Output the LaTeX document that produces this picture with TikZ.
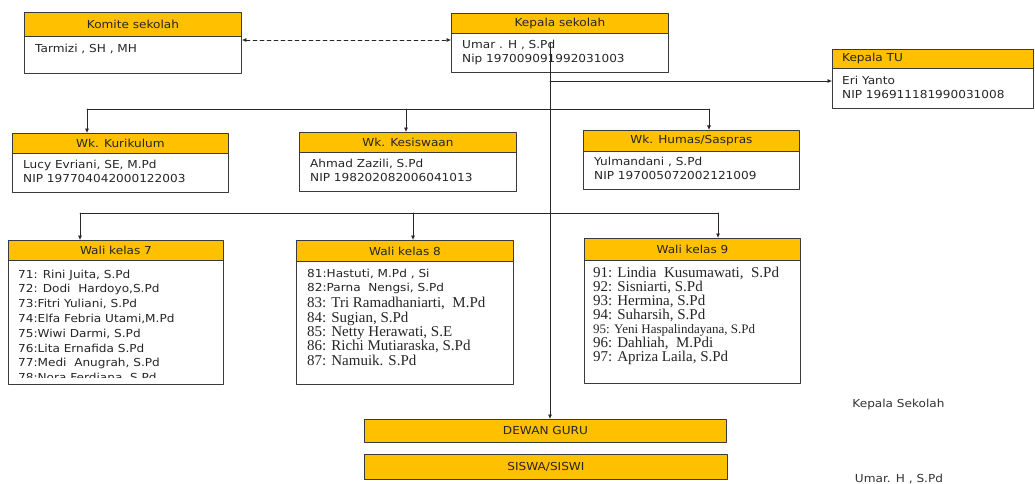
\documentclass[tikz,border=0pt]{standalone}
\usepackage{fontspec}
\setmainfont{DejaVu Sans}[FakeStretch=1.1]
\newfontfamily\timesfont{Liberation Serif}
\usetikzlibrary{arrows.meta}
\definecolor{hdryellow}{RGB}{255,192,0}
\definecolor{edgegray}{RGB}{58,58,58}
\definecolor{linegray}{RGB}{40,40,40}

\begin{document}
\begin{tikzpicture}[x=1pt,y=-1pt,line cap=round,line join=round,
  font=\fontsize{11}{14}\selectfont,
  hdr/.style={draw=edgegray,fill=hdryellow,line width=0.9pt,anchor=north west,inner sep=0pt,text=black!85},
  bodybox/.style={draw=edgegray,fill=white,line width=0.9pt,anchor=north west,inner sep=0pt},
  bodytxt/.style={anchor=north west,inner sep=0pt,align=left,text=black!85},
  serif/.style={font=\timesfont\fontsize{15}{14.4}\selectfont},
  link/.style={draw=linegray,line width=0.7pt},
  tip/.style={-{Latex[length=4.5pt,width=4pt]}}]
\useasboundingbox (0,0) rectangle (1035,484);
% top row
\node[bodybox,minimum width=217pt,minimum height=37pt] (komB) at (24,36) {};
\node[hdr,minimum width=217pt,minimum height=24pt] (komH) at (24,12) {Komite sekolah};
\node[bodytxt] (komT) at (35,43.5) {Tarmizi , SH , MH};
\node[bodybox,minimum width=217pt,minimum height=39pt] (kepB) at (451,33) {};
\node[hdr,minimum width=217pt,minimum height=20pt] (kepH) at (451,13) {Kepala sekolah};
\node[bodytxt] (kepT) at (462,39.5) {Umar . H , S.Pd\\Nip 197009091992031003};
\node[bodybox,minimum width=201pt,minimum height=40pt] (tuB) at (832,68) {};
\node[hdr,minimum width=201pt,minimum height=19pt] (tuH) at (832,49) {};
\node[bodytxt,anchor=west] (tuHT) at ([xshift=10pt]tuH.west) {Kepala TU};
\node[bodytxt] (tuT) at (842,76) {Eri Yanto\\NIP 196911181990031008};
% wakil
\node[bodybox,minimum width=216pt,minimum height=39pt] (kurB) at (12,153) {};
\node[hdr,minimum width=216pt,minimum height=20pt] (kurH) at (12,133) {Wk. Kurikulum};
\node[bodytxt] (kurT) at (23,159.5) {Lucy Evriani, SE, M.Pd\\NIP 197704042000122003};
\node[bodybox,minimum width=217pt,minimum height=39pt] (kesB) at (299,152) {};
\node[hdr,minimum width=217pt,minimum height=20pt] (kesH) at (299,132) {Wk. Kesiswaan};
\node[bodytxt] (kesT) at (310,158.5) {Ahmad Zazili, S.Pd\\NIP 198202082006041013};
\node[bodybox,minimum width=216pt,minimum height=38pt] (humB) at (583,151) {};
\node[hdr,minimum width=216pt,minimum height=21pt] (humH) at (583,130) {Wk. Humas/Saspras};
\node[bodytxt] (humT) at (594,156.5) {Yulmandani , S.Pd\\NIP 197005072002121009};
% wali kelas
\node[bodybox,minimum width=215pt,minimum height=124pt] (w7B) at (8,260) {};
\node[hdr,minimum width=215pt,minimum height=20pt] (w7H) at (8,240) {Wali kelas 7};
\begin{scope}
\clip (9,261) rectangle (222,377.5);
\node[bodytxt,font=\fontsize{11}{14.8}\selectfont] (w7T) at (18,269.5) {71: Rini Juita, S.Pd\\72: Dodi~ Hardoyo,S.Pd\\73:Fitri Yuliani, S.Pd\\74:Elfa Febria Utami,M.Pd\\75:Wiwi Darmi, S.Pd\\76:Lita Ernafida S.Pd\\77:Medi~ Anugrah, S.Pd\\78:Nora Ferdiana, S.Pd};
\end{scope}
\node[bodybox,minimum width=217pt,minimum height=123pt] (w8B) at (296,261) {};
\node[hdr,minimum width=217pt,minimum height=21pt] (w8H) at (296,240) {Wali kelas 8};
\node[bodytxt,font=\fontsize{11}{14.7}\selectfont] (w8T) at (307,268.5) {81:Hastuti, M.Pd , Si\\82:Parna~ Nengsi, S.Pd};
\node[bodytxt,serif] (w8S) at (307,297) {83: Tri Ramadhaniarti,~ M.Pd\\84: Sugian, S.Pd\\85: Netty Herawati, S.E\\86: Richi Mutiaraska, S.Pd\\87: Namuik. S.Pd};
\node[bodybox,minimum width=216pt,minimum height=123pt] (w9B) at (584,260) {};
\node[hdr,minimum width=216pt,minimum height=22pt] (w9H) at (584,238) {Wali kelas 9};
\node[bodytxt,serif,font=\timesfont\fontsize{15}{14.1}\selectfont] (w9T) at (593,266.5) {91: Lindia~ Kusumawati,~ S.Pd\\92: Sisniarti, S.Pd\\93: Hermina, S.Pd\\94: Suharsih, S.Pd\\{\fontsize{13}{14.1}\selectfont 95: Yeni Haspalindayana, S.Pd}\\96: Dahliah,~ M.Pdi\\97: Apriza Laila, S.Pd};
% bottom bars
\node[hdr,minimum width=362pt,minimum height=23pt] (guru) at (364,419) {DEWAN GURU};
\node[hdr,minimum width=363pt,minimum height=25pt] (siswa) at (364,454) {SISWA/SISWI};
\node[text=black!80] (signRole) at (898.5,404) {Kepala Sekolah};
\node[text=black!80] (signName) at (899,479) {Umar. H , S.Pd};
% connectors
\coordinate (dashY) at (0,40);
\draw[link,dash pattern=on 4pt off 3pt,{Latex[length=4.5pt,width=4pt]}-{Latex[length=4.5pt,width=4pt]}] (komB.east |- dashY) -- (kepB.west |- dashY);
\coordinate (trunkTop) at (550,43);
\coordinate (tuY) at (550,81);
\draw[link,tip] (trunkTop) -- (trunkTop |- guru.north);
\draw[link,tip] (tuY) -- (tuY -| tuB.west);
\coordinate (wkA) at (87,109);
\coordinate (wkB) at (406,109);
\coordinate (wkC) at (709,109);
\draw[link] (wkA) -- (wkC);
\foreach \c/\n in {wkA/kurH,wkB/kesH,wkC/humH}
  \draw[link,tip] (\c) -- (\c |- \n.north);
\coordinate (wlA) at (80,213);
\coordinate (wlB) at (413,213);
\coordinate (wlC) at (718,213);
\draw[link] (wlA) -- (wlC);
\foreach \c/\n in {wlA/w7H,wlB/w8H,wlC/w9H}
  \draw[link,tip] (\c) -- (\c |- \n.north);
\end{tikzpicture}
\end{document}
